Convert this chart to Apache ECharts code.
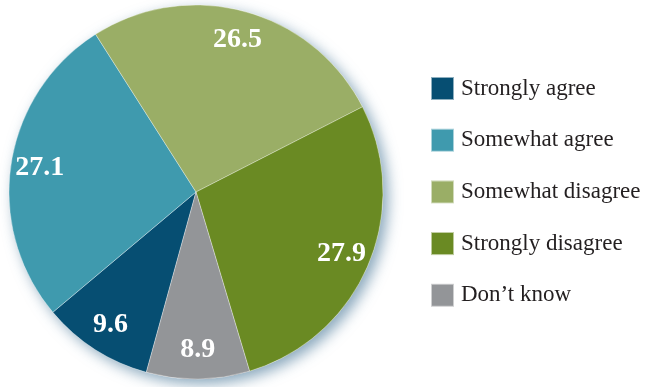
<!DOCTYPE html>
<html>
<head>
<meta charset="utf-8">
<script src="https://cdn.jsdelivr.net/npm/echarts@6/dist/echarts.min.js"></script>
<style>
  html, body { margin: 0; padding: 0; background: #ffffff; }
  #chart { width: 649px; height: 387px; }
</style>
</head>
<body>
<div id="chart"></div>
<script>
// Survey responses (percent of respondents)
const categories = ['Strongly agree', 'Somewhat agree', 'Somewhat disagree', 'Strongly disagree', "Don\u2019t know"];
const values = [9.6, 27.1, 26.5, 27.9, 8.9];
const colors = ['#064e72', '#3f9aae', '#9aae66', '#6a8a23', '#939598'];

const CENTER = [196, 192];
const RADIUS = 187;
const START = 254.6;

const sliceData = categories.map((name, i) => ({ name: name, value: values[i] }));

const chart = echarts.init(document.getElementById('chart'), null, { renderer: 'canvas' });
chart.setOption({
  animation: false,
  color: colors,
  legend: {
    orient: 'vertical',
    left: 425,
    top: 71,
    itemWidth: 23,
    itemHeight: 23,
    itemGap: 26.7,
    icon: 'rect',
    data: categories,
    textStyle: {
      fontFamily: 'Liberation Serif',
      fontSize: 23,
      color: '#231f20',
      padding: [0, 0, 0, 2]
    }
  },
  series: [
    {
      // soft shadow disc behind the pie
      type: 'pie',
      silent: true,
      z: 1,
      center: CENTER,
      radius: [0, RADIUS],
      label: { show: false },
      labelLine: { show: false },
      data: [{ name: '_base', value: 1 }],
      itemStyle: {
        color: '#ffffff',
        shadowColor: 'rgba(60,110,145,0.6)',
        shadowBlur: 14,
        shadowOffsetX: 5,
        shadowOffsetY: 5
      }
    },
    {
      type: 'pie',
      z: 2,
      center: CENTER,
      radius: [0, RADIUS],
      startAngle: START,
      clockwise: true,
      label: { show: false },
      labelLine: { show: false },
      itemStyle: { borderColor: 'rgba(255,255,255,0.55)', borderWidth: 0.6 },
      emphasis: { disabled: true },
      data: sliceData
    },
    {
      // value labels placed in an outer ring band
      type: 'pie',
      silent: true,
      z: 3,
      center: CENTER,
      radius: [RADIUS * 0.66, RADIUS],
      startAngle: START,
      clockwise: true,
      itemStyle: { color: 'rgba(0,0,0,0)' },
      labelLine: { show: false },
      label: {
        show: true,
        position: 'inside',
        formatter: p => p.value.toFixed(1),
        color: '#ffffff',
        fontFamily: 'Liberation Serif',
        fontWeight: 'bold',
        fontSize: 28
      },
      data: sliceData
    }
  ]
});
</script>
</body>
</html>
